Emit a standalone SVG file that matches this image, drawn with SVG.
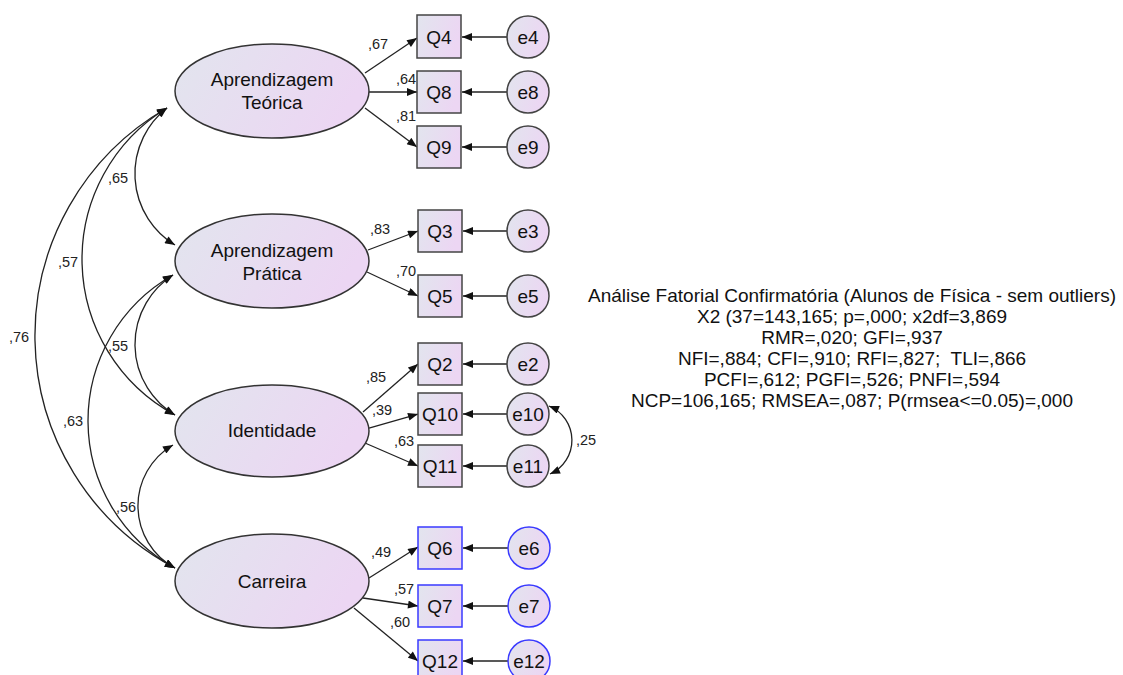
<svg xmlns="http://www.w3.org/2000/svg" width="1123" height="675" viewBox="0 0 1123 675">
<defs>
<linearGradient id="g" x1="0" y1="0" x2="1" y2="0.3">
<stop offset="0" stop-color="#e2e5ee"/>
<stop offset="1" stop-color="#ecd6f3"/>
</linearGradient>
<marker id="ah" viewBox="0 0 10 8" refX="10" refY="4" markerWidth="11" markerHeight="8" markerUnits="userSpaceOnUse" orient="auto-start-reverse">
<path d="M0,0 L10,4 L0,8 Z" fill="#111"/>
</marker>
</defs>
<style>
.lat{fill:url(#g);stroke:#333;stroke-width:1.5}
.obs{fill:url(#g);stroke:#444;stroke-width:1.5}
.blue{stroke:#3a3aff}
.t{font-family:"Liberation Sans",Arial,sans-serif;font-size:19px;fill:#111;text-anchor:middle}
.c{font-family:"Liberation Sans",Arial,sans-serif;font-size:14.5px;fill:#222}
.info{font-family:"Liberation Sans",Arial,sans-serif;font-size:19px;fill:#111;text-anchor:middle}
.ln{fill:none;stroke:#222;stroke-width:1.3}
</style>
<rect width="1123" height="675" fill="#fff"/>

<g id="connectors">
<!-- loadings -->
<path class="ln" d="M365,73 L417,38" marker-end="url(#ah)"/>
<path class="ln" d="M369,92 L417,92" marker-end="url(#ah)"/>
<path class="ln" d="M365,108 L417,147" marker-end="url(#ah)"/>
<path class="ln" d="M368,250 L418,231" marker-end="url(#ah)"/>
<path class="ln" d="M367,272 L418,296" marker-end="url(#ah)"/>
<path class="ln" d="M363,412 L418,364" marker-end="url(#ah)"/>
<path class="ln" d="M369,428 L418,414" marker-end="url(#ah)"/>
<path class="ln" d="M365,443 L418,466" marker-end="url(#ah)"/>
<path class="ln" d="M369,578 L418,547" marker-end="url(#ah)"/>
<path class="ln" d="M363,598 L418,606" marker-end="url(#ah)"/>
<path class="ln" d="M354,608 L418,661" marker-end="url(#ah)"/>
<!-- errors -->
<path class="ln" d="M507,37 L462,37" marker-end="url(#ah)"/>
<path class="ln" d="M507,92 L462,92" marker-end="url(#ah)"/>
<path class="ln" d="M507,147 L462,147" marker-end="url(#ah)"/>
<path class="ln" d="M507,231 L463,231" marker-end="url(#ah)"/>
<path class="ln" d="M507,296 L463,296" marker-end="url(#ah)"/>
<path class="ln" d="M507,364 L463,364" marker-end="url(#ah)"/>
<path class="ln" d="M507,414 L463,414" marker-end="url(#ah)"/>
<path class="ln" d="M507,466 L463,466" marker-end="url(#ah)"/>
<path class="ln" d="M508,548 L463,548" marker-end="url(#ah)"/>
<path class="ln" d="M508,606 L463,606" marker-end="url(#ah)"/>
<path class="ln" d="M508,661 L463,661" marker-end="url(#ah)"/>
<!-- covariances -->
<path class="ln" d="M167,108 A83.4,83.4 0 0 0 175,245" marker-start="url(#ah)" marker-end="url(#ah)"/>
<path class="ln" d="M167,108 A177,177 0 0 0 175,415" marker-start="url(#ah)" marker-end="url(#ah)"/>
<path class="ln" d="M167,108 A262.5,262.5 0 0 0 175,568" marker-start="url(#ah)" marker-end="url(#ah)"/>
<path class="ln" d="M173,275 A82.3,82.3 0 0 0 175,415" marker-start="url(#ah)" marker-end="url(#ah)"/>
<path class="ln" d="M173,275 A167.8,167.8 0 0 0 175,568" marker-start="url(#ah)" marker-end="url(#ah)"/>
<path class="ln" d="M173,445 A70.5,70.5 0 0 0 175,568" marker-start="url(#ah)" marker-end="url(#ah)"/>
<path class="ln" d="M549,406 A37,37 0 0 1 550,474" marker-start="url(#ah)" marker-end="url(#ah)"/>
<!-- labels -->
<text class="c" x="368" y="49">,67</text>
<text class="c" x="396" y="84">,64</text>
<text class="c" x="396" y="121">,81</text>
<text class="c" x="370" y="234">,83</text>
<text class="c" x="396" y="276">,70</text>
<text class="c" x="366" y="382">,85</text>
<text class="c" x="372" y="415">,39</text>
<text class="c" x="394" y="446">,63</text>
<text class="c" x="371" y="557">,49</text>
<text class="c" x="394" y="594">,57</text>
<text class="c" x="390" y="627">,60</text>
<text class="c" x="108" y="183">,65</text>
<text class="c" x="58" y="267">,57</text>
<text class="c" x="9" y="342">,76</text>
<text class="c" x="108" y="351">,55</text>
<text class="c" x="63" y="426">,63</text>
<text class="c" x="116" y="512">,56</text>
<text class="c" x="576" y="445">,25</text>
</g>

<g id="AT"><ellipse class="lat" cx="272" cy="91" rx="97" ry="47"/><text class="t" x="272" y="86">Aprendizagem</text><text class="t" x="272" y="109">Teórica</text></g>
<g id="AP"><ellipse class="lat" cx="272" cy="261" rx="97" ry="47"/><text class="t" x="272" y="257">Aprendizagem</text><text class="t" x="272" y="280">Prática</text></g>
<g id="ID"><ellipse class="lat" cx="272" cy="431" rx="97" ry="46"/><text class="t" x="272" y="437">Identidade</text></g>
<g id="CA"><ellipse class="lat" cx="272" cy="581" rx="97" ry="47"/><text class="t" x="272" y="588">Carreira</text></g>

<g id="Q4"><rect class="obs" x="417" y="15" width="44" height="43"/><text class="t" x="439" y="44">Q4</text></g>
<g id="Q8"><rect class="obs" x="417" y="71" width="44" height="42"/><text class="t" x="439" y="99">Q8</text></g>
<g id="Q9"><rect class="obs" x="417" y="126" width="44" height="42"/><text class="t" x="439" y="154">Q9</text></g>
<g id="Q3"><rect class="obs" x="418" y="210" width="44" height="42"/><text class="t" x="440" y="238">Q3</text></g>
<g id="Q5"><rect class="obs" x="418" y="275" width="44" height="42"/><text class="t" x="440" y="303">Q5</text></g>
<g id="Q2"><rect class="obs" x="418" y="343" width="44" height="42"/><text class="t" x="440" y="371">Q2</text></g>
<g id="Q10"><rect class="obs" x="418" y="393" width="44" height="42"/><text class="t" x="440" y="421">Q10</text></g>
<g id="Q11"><rect class="obs" x="418" y="445" width="44" height="42"/><text class="t" x="440" y="473">Q11</text></g>
<g id="Q6"><rect class="obs blue" x="418" y="527" width="44" height="42"/><text class="t" x="440" y="555">Q6</text></g>
<g id="Q7"><rect class="obs blue" x="418" y="585" width="44" height="42"/><text class="t" x="440" y="613">Q7</text></g>
<g id="Q12"><rect class="obs blue" x="418" y="640" width="44" height="43"/><text class="t" x="440" y="668">Q12</text></g>

<g id="e4"><circle class="obs" cx="528" cy="37" r="21"/><text class="t" x="528" y="44">e4</text></g>
<g id="e8"><circle class="obs" cx="528" cy="92" r="21"/><text class="t" x="528" y="99">e8</text></g>
<g id="e9"><circle class="obs" cx="528" cy="147" r="21"/><text class="t" x="528" y="154">e9</text></g>
<g id="e3"><circle class="obs" cx="528" cy="231" r="21"/><text class="t" x="528" y="238">e3</text></g>
<g id="e5"><circle class="obs" cx="528" cy="296" r="21"/><text class="t" x="528" y="303">e5</text></g>
<g id="e2"><circle class="obs" cx="528" cy="364" r="21"/><text class="t" x="528" y="371">e2</text></g>
<g id="e10"><circle class="obs" cx="528" cy="414" r="21"/><text class="t" x="528" y="421">e10</text></g>
<g id="e11"><circle class="obs" cx="528" cy="466" r="21"/><text class="t" x="528" y="473">e11</text></g>
<g id="e6"><circle class="obs blue" cx="529" cy="548" r="21"/><text class="t" x="529" y="555">e6</text></g>
<g id="e7"><circle class="obs blue" cx="529" cy="606" r="21"/><text class="t" x="529" y="613">e7</text></g>
<g id="e12"><circle class="obs blue" cx="529" cy="661" r="21"/><text class="t" x="529" y="668">e12</text></g>

<g id="fit">
<text class="info" x="852" y="302">Análise Fatorial Confirmatória (Alunos de Física - sem outliers)</text>
<text class="info" x="852" y="323">X2 (37=143,165; p=,000; x2df=3,869</text>
<text class="info" x="852" y="344">RMR=,020; GFI=,937</text>
<text class="info" x="852" y="365" xml:space="preserve">NFI=,884; CFI=,910; RFI=,827;  TLI=,866</text>
<text class="info" x="852" y="386">PCFI=,612; PGFI=,526; PNFI=,594</text>
<text class="info" x="852" y="407">NCP=106,165; RMSEA=,087; P(rmsea&lt;=0.05)=,000</text>
</g>
</svg>
